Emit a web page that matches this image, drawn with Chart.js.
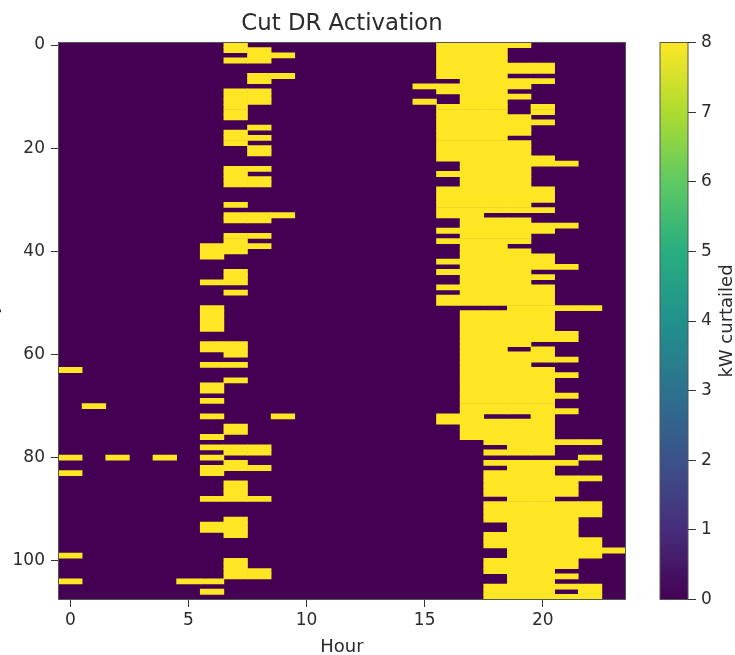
<!DOCTYPE html>
<html>
<head>
<meta charset="utf-8">
<title>Cut DR Activation</title>
<script src="https://cdn.jsdelivr.net/npm/chart.js@4"></script>
<style>
html,body{margin:0;padding:0;background:#fff;overflow:hidden;width:735px;height:655px}
.wrap{position:absolute;top:0;height:655px}
#mainWrap{left:-20px;width:670px}
#barWrap{left:640px;width:95px}
canvas{display:block;filter:blur(0.65px)}
</style>
</head>
<body>
<div class="wrap" id="mainWrap"><canvas id="main" width="670" height="655"></canvas></div>
<div class="wrap" id="barWrap"><canvas id="cbar" width="95" height="655"></canvas></div>
<script>
const titleText = 'Cut DR Activation';
const xTitle = 'Hour';
const yTitle = 'Day';
const cbarTitle = 'kW curtailed';
const xTicks = [0, 5, 10, 15, 20];
const yTickStep = 20;
const cbarRange = [0, 8];
const curtailedKw = 8;
const hours = Array.from({length: 24}, (_, i) => i);
const viridis = ['#440154','#472d7b','#3b528b','#2c728e','#21918c','#28ae80','#5ec962','#addc30','#fde725'];

// Hours with curtailment, one list per day (row)
const activeHours = [
[7,16,17,18,19],[7,8,16,17,18],[8,9,16,17,18],[7,8,16,17,18],[16,17,18,19,20],[16,17,18,19,20],
[8,9,16,17,18],[8,17,18,19,20],[15,16,17,18,19],[7,8,16,17,18],[7,8,17,18,19],[7,8,15,17,18],
[7,16,17,18,20],[7,16,17,18,20],[7,16,17,18,19],[16,17,18,19,20],[8,16,17,18,19],[7,16,17,18,19],
[7,8,16,17,18],[7,16,17,18,19],[8,16,17,18,19],[8,16,17,18,19],[16,17,18,19,20],[17,18,19,20,21],
[7,8,17,18,19],[7,16,17,18,19],[7,8,17,18,19],[7,8,17,18,19],[16,17,18,19,20],[16,17,18,19,20],
[16,17,18,19,20],[7,16,17,18,19],[16,17,18,19,20],[7,8,9,16,17],[7,8,17,18,19],[17,18,19,20,21],
[16,17,18,19,20],[7,8,17,18,19],[7,16,17,18,19],[6,7,8,17,18],[6,7,17,18,19],[6,17,18,19,20],
[16,17,18,19,20],[17,18,19,20,21],[7,16,17,18,19],[7,17,18,19,20],[6,7,17,18,19],[16,17,18,19,20],
[7,17,18,19,20],[16,17,18,19,20],[16,17,18,19,20],[6,19,20,21,22],[6,17,18,19,20],[6,17,18,19,20],
[6,17,18,19,20],[6,17,18,19,20],[17,18,19,20,21],[17,18,19,20,21],[6,7,17,18,19],[6,7,17,18,20],
[7,17,18,19,20],[17,18,19,20,21],[6,7,17,18,19],[0,17,18,19,20],[17,18,19,20,21],[7,17,18,19,20],
[6,17,18,19,20],[6,17,18,19,20],[17,18,19,20,21],[6,17,18,19,20],[1,17,18,19,20],[17,18,19,20,21],
[6,9,16,17,20],[16,17,18,19,20],[7,17,18,19,20],[7,17,18,19,20],[6,17,18,19,20],[18,19,20,21,22],
[6,7,8,19,20],[7,8,18,19,20],[0,2,4,6,22],[7,18,19,20,21],[6,7,8,19,20],[0,6,18,19,20],
[18,19,20,21,22],[7,18,19,20,21],[7,18,19,20,21],[7,18,19,20,21],[6,7,8,19,20],[18,19,20,21,22],
[18,19,20,21,22],[18,19,20,21,22],[7,18,19,20,21],[6,7,19,20,21],[6,7,19,20,21],[7,18,19,20,21],
[18,19,20,21,22],[18,19,20,21,22],[19,20,21,22,23],[0,19,20,21,22],[7,18,19,20,21],[7,18,19,20,21],
[7,8,18,19,20],[7,8,19,20,21],[0,5,6,19,20],[18,19,20,21,22],[6,18,19,20,22],[18,19,20,21,22]
];
const days = activeHours.map((_, i) => String(i));

const textColor = '#2b2b2b';
const spineColor = '#555555';
const fontFamily = '"DejaVu Sans", sans-serif';
Chart.defaults.font.family = fontFamily;
Chart.defaults.color = textColor;
Chart.defaults.animation = false;

const colorAt = v => viridis[Math.round((v - cbarRange[0]) / (cbarRange[1] - cbarRange[0]) * (viridis.length - 1))];

const frame = {
  id: 'frame',
  beforeDatasetsDraw(c, a, o) {
    if (!o.fill) return;
    const {left, top, width, height} = c.chartArea;
    c.ctx.save(); c.ctx.fillStyle = o.fill; c.ctx.fillRect(left, top, width, height); c.ctx.restore();
  },
  afterDatasetsDraw(c) {
    const {left, top, width, height} = c.chartArea;
    const x = c.ctx; x.save(); x.strokeStyle = spineColor; x.lineWidth = 1; x.strokeRect(left, top, width, height); x.restore();
  }
};

new Chart(document.getElementById('main'), {
  type: 'bar',
  data: {
    labels: days,
    datasets: hours.map(h => ({
      label: 'Hour ' + h,
      data: activeHours.map(row => row.includes(h) ? [h - 0.5, h + 0.5] : null),
      backgroundColor: colorAt(curtailedKw),
      borderWidth: 0,
      grouped: false,
      barPercentage: 1,
      categoryPercentage: 1
    }))
  },
  options: {
    indexAxis: 'y',
    responsive: false,
    maintainAspectRatio: false,
    layout: {padding: {right: 24.5}},
    plugins: {
      legend: {display: false},
      tooltip: {enabled: false},
      frame: {fill: colorAt(0)},
      title: {display: true, fullSize: false, text: titleText, color: textColor, font: {size: 22.8, weight: 'normal'}, padding: {top: 10, bottom: 5.1}}
    },
    scales: {
      x: {
        type: 'linear', min: -0.5, max: 23.5,
        afterBuildTicks: s => { s.ticks = xTicks.map(v => ({value: v})); },
        afterFit: s => { s.height = 55.5; },
        ticks: {autoSkip: false, maxRotation: 0, font: {size: 17}, color: textColor, padding: 3},
        grid: {drawOnChartArea: false, tickLength: 7.5, tickColor: '#333', tickWidth: 1},
        border: {display: false},
        title: {display: true, text: xTitle, color: textColor, font: {size: 18, lineHeight: 0.9}, padding: 0}
      },
      y: {
        type: 'category', offset: true,
        afterBuildTicks: s => { s.ticks = s.ticks.filter(t => t.value % yTickStep === 0); },
        afterFit: s => { s.width = 78.5; },
        ticks: {autoSkip: false, font: {size: 17}, color: textColor, padding: 6},
        grid: {offset: false, drawOnChartArea: false, tickLength: 7.5, tickColor: '#333', tickWidth: 1},
        border: {display: false},
        title: {display: true, text: yTitle, color: textColor, font: {size: 18, lineHeight: 0.9}, padding: 4.2}
      }
    }
  },
  plugins: [frame]
});

const cbarLabel = {
  id: 'cbarLabel',
  afterDraw(c) {
    const {top, bottom} = c.chartArea;
    const x = c.ctx;
    x.save();
    x.translate(87, (top + bottom) / 2);
    x.rotate(-Math.PI / 2);
    x.textAlign = 'center'; x.textBaseline = 'middle';
    x.fillStyle = textColor;
    x.font = '18px ' + fontFamily;
    x.fillText(cbarTitle, 0, 0);
    x.restore();
  }
};

new Chart(document.getElementById('cbar'), {
  type: 'bar',
  data: {
    labels: [cbarTitle],
    datasets: [{
      data: [cbarRange],
      borderWidth: 0,
      barPercentage: 1,
      categoryPercentage: 1,
      backgroundColor(ctx) {
        const a = ctx.chart.chartArea;
        if (!a) return viridis[0];
        const g = ctx.chart.ctx.createLinearGradient(0, a.bottom, 0, a.top);
        viridis.forEach((col, i) => g.addColorStop(i / (viridis.length - 1), col));
        return g;
      }
    }]
  },
  options: {
    responsive: false,
    maintainAspectRatio: false,
    layout: {padding: {left: 20, top: 42.5, bottom: 55.5}},
    plugins: {legend: {display: false}, tooltip: {enabled: false}},
    scales: {
      x: {display: false},
      y: {
        position: 'right', min: cbarRange[0], max: cbarRange[1],
        afterFit: s => { s.width = 47; },
        ticks: {stepSize: 1, font: {size: 17}, color: textColor, padding: 5},
        grid: {drawOnChartArea: false, tickLength: 8, tickColor: '#333', tickWidth: 1},
        border: {display: false}
      }
    }
  },
  plugins: [frame, cbarLabel]
});
</script>
</body>
</html>
